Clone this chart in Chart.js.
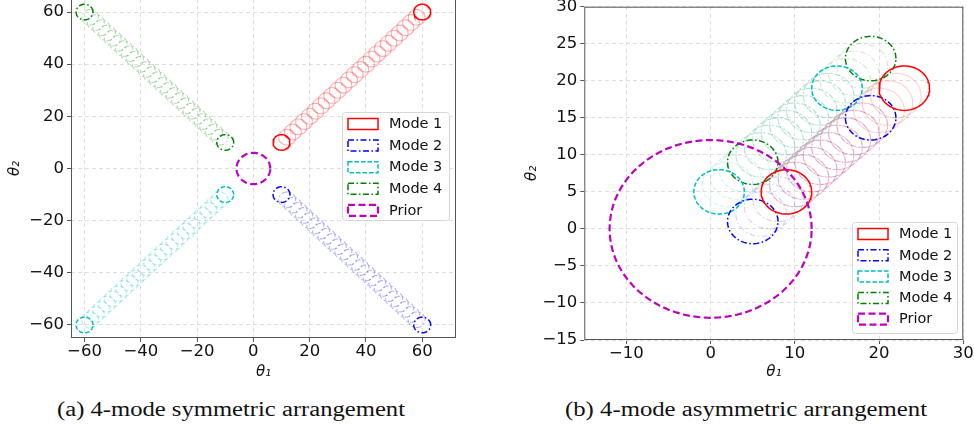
<!DOCTYPE html>
<html>
<head>
<meta charset="utf-8">
<script src="https://cdn.jsdelivr.net/npm/chart.js@4.4.1/dist/chart.umd.min.js"></script>
<style>
  body { margin: 0; background: #fff; width: 974px; height: 427px; overflow: hidden; position: relative; }
  .panel { position: absolute; }
  .caption { position: absolute; top: 398px; line-height: 22px; font-family: 'Liberation Serif', serif; font-size: 20px; color: #111; white-space: nowrap; transform-origin: 0 50%; }
</style>
</head>
<body>
<div class="panel" style="left:0;top:-1px;width:480px;height:386px"><canvas id="leftChart" width="480" height="386"></canvas></div>
<div class="panel" style="left:510px;top:0;width:464px;height:386px"><canvas id="rightChart" width="464" height="386"></canvas></div>
<div class="caption" id="capA" style="left:57px">(a) 4-mode symmetric arrangement</div>
<div class="caption" id="capB" style="left:565px">(b) 4-mode asymmetric arrangement</div>
<script>
// ---- data: circle centres along each mode path ----
// (a) symmetric
const leftMode1X = [10,12,14,16,18,20,22,24,26,28,30,32,34,36,38,40,42,44,46,48,50,52,54,56,58,60];
const leftMode1Y = [10,12,14,16,18,20,22,24,26,28,30,32,34,36,38,40,42,44,46,48,50,52,54,56,58,60];
const leftMode2X = [10,12,14,16,18,20,22,24,26,28,30,32,34,36,38,40,42,44,46,48,50,52,54,56,58,60];
const leftMode2Y = [-10,-12,-14,-16,-18,-20,-22,-24,-26,-28,-30,-32,-34,-36,-38,-40,-42,-44,-46,-48,-50,-52,-54,-56,-58,-60];
const leftMode3X = [-10,-12,-14,-16,-18,-20,-22,-24,-26,-28,-30,-32,-34,-36,-38,-40,-42,-44,-46,-48,-50,-52,-54,-56,-58,-60];
const leftMode3Y = [-10,-12,-14,-16,-18,-20,-22,-24,-26,-28,-30,-32,-34,-36,-38,-40,-42,-44,-46,-48,-50,-52,-54,-56,-58,-60];
const leftMode4X = [-10,-12,-14,-16,-18,-20,-22,-24,-26,-28,-30,-32,-34,-36,-38,-40,-42,-44,-46,-48,-50,-52,-54,-56,-58,-60];
const leftMode4Y = [10,12,14,16,18,20,22,24,26,28,30,32,34,36,38,40,42,44,46,48,50,52,54,56,58,60];
const leftModeRadius = 3;
const leftPrior = [0, 0];
const leftPriorRadius = 6;

// (b) asymmetric
const rightMode1X = [9,10,11,12,13,14,15,16,17,18,19,20,21,22,23];
const rightMode1Y = [5,6,7,8,9,10,11,12,13,14,15,16,17,18,19];
const rightMode2X = [5,6,7,8,9,10,11,12,13,14,15,16,17,18,19];
const rightMode2Y = [1,2,3,4,5,6,7,8,9,10,11,12,13,14,15];
const rightMode3X = [1,2,3,4,5,6,7,8,9,10,11,12,13,14,15];
const rightMode3Y = [5,6,7,8,9,10,11,12,13,14,15,16,17,18,19];
const rightMode4X = [5,6,7,8,9,10,11,12,13,14,15,16,17,18,19];
const rightMode4Y = [9,10,11,12,13,14,15,16,17,18,19,20,21,22,23];
const rightModeRadius = 3;
const rightPrior = [0, 0];
const rightPriorRadius = 12;

// axes
const leftXTicks = [-60, -40, -20, 0, 20, 40, 60];
const leftYTicks = [-60, -40, -20, 0, 20, 40, 60];
const rightXTicks = [-10, 0, 10, 20, 30];
const rightYTicks = [-15, -10, -5, 0, 5, 10, 15, 20, 25, 30];
const legendLabels = ['Mode 1', 'Mode 2', 'Mode 3', 'Mode 4', 'Prior'];

// ---- styles ----
const modeColours = ['#ff0000', '#0000ff', '#00bfbf', '#008000'];
const priorColour = '#bf00bf';
const dashDot = [6, 2.5, 1.5, 2.5];
const dashed = [4.5, 2];
const modeDashes = [[], dashDot, dashed, dashDot];
const priorDash = [7, 3.5];
const FONT = '"DejaVu Sans", sans-serif';

function withAlpha(hex, a) {
  const n = parseInt(hex.slice(1), 16);
  return `rgba(${(n >> 16) & 255},${(n >> 8) & 255},${n & 255},${a})`;
}

// outline of a circle in data space, so the scales turn it into pixels
function outline(cx, cy, r) {
  const pts = [];
  for (let k = 0; k <= 72; k++) {
    const a = k / 72 * Math.PI * 2;
    pts.push({ x: cx + r * Math.cos(a), y: cy + r * Math.sin(a) });
  }
  return pts;
}

function modeSets(xs, ys, r, colour, dash, faint) {
  return xs.map((x, i) => {
    const end = i === 0 || i === xs.length - 1;
    return {
      data: outline(x, ys[i], r),
      showLine: true, pointRadius: 0, fill: false, tension: 0,
      borderColor: end ? colour : withAlpha(colour, faint),
      borderWidth: end ? 1.5 : 1.1,
      borderDash: dash,
      order: end ? 1 : 2
    };
  });
}

function priorSet(c, r) {
  return {
    data: outline(c[0], c[1], r),
    showLine: true, pointRadius: 0, fill: false, tension: 0,
    borderColor: priorColour, borderWidth: 2.2, borderDash: priorDash, order: 0
  };
}

const fmt = v => v < 0 ? '\u2212' + Math.abs(v) : String(v);

// matplotlib-like box round the axes
const framePlugin = {
  id: 'frame',
  afterDatasetsDraw(chart) {
    const { ctx, chartArea: a } = chart;
    ctx.save();
    ctx.strokeStyle = '#555';
    ctx.lineWidth = 1;
    ctx.strokeRect(a.left + 0.5, a.top + 0.5, a.right - a.left - 1, a.bottom - a.top - 1);
    ctx.restore();
  }
};

// legend with rectangle handles in the line style of each mode
const boxLegend = {
  id: 'boxLegend',
  afterDraw(chart, args, opts) {
    const { ctx } = chart;
    const b = opts.box;
    ctx.save();
    ctx.beginPath();
    if (ctx.roundRect) ctx.roundRect(b.x + 0.5, b.y + 0.5, b.w, b.h, 3);
    else ctx.rect(b.x + 0.5, b.y + 0.5, b.w, b.h);
    ctx.fillStyle = 'rgba(255,255,255,0.85)';
    ctx.fill();
    ctx.strokeStyle = '#d6d6d6';
    ctx.lineWidth = 1;
    ctx.stroke();
    const colours = modeColours.concat([priorColour]);
    const dashes = modeDashes.concat([priorDash]);
    legendLabels.forEach((lab, i) => {
      const y = b.y + 12 + i * opts.step;
      ctx.setLineDash(dashes[i]);
      ctx.strokeStyle = colours[i];
      ctx.lineWidth = i === 4 ? 2.2 : 1.5;
      ctx.strokeRect(b.x + 6, y - 5.5, 30, 11);
      ctx.setLineDash([]);
      ctx.fillStyle = '#111';
      ctx.font = '14.5px ' + FONT;
      ctx.textBaseline = 'middle';
      ctx.fillText(lab, b.x + 47, y + 0.5);
    });
    ctx.restore();
  }
};

function axis(min, max, ticks, opts) {
  const horiz = opts.horiz;
  return {
    type: 'linear', min, max,
    afterBuildTicks: s => { s.ticks = ticks.map(v => ({ value: v })); },
    afterFit: s => {
      if (horiz) { s.height = opts.size; s.paddingLeft = 0; s.paddingRight = 0; }
      else { s.width = opts.size; s.paddingTop = 0; s.paddingBottom = 0; }
    },
    grid: { color: '#dedede', lineWidth: 1, drawTicks: true, tickLength: 4, tickColor: '#555', tickWidth: 1, tickBorderDash: [] },
    border: { display: false, dash: [4, 3] },
    ticks: { font: { family: FONT, size: 16.5 }, color: '#111', padding: horiz ? 0 : 3, autoSkip: false, maxRotation: 0, callback: fmt },
    title: {
      display: true, text: horiz ? '\u03b8\u2081' : '\u03b8\u2082', color: '#111',
      font: { family: FONT, size: 15, style: 'italic' },
      padding: horiz ? { top: 0, bottom: opts.titlePad } : { top: opts.titlePad, bottom: 0 }
    }
  };
}

function makeChart(id, datasets, cfg) {
  return new Chart(document.getElementById(id), {
    type: 'scatter',
    data: { datasets },
    options: {
      responsive: false, animation: false, devicePixelRatio: 1, events: [],
      layout: { padding: cfg.padding },
      plugins: {
        legend: { display: false }, tooltip: { enabled: false },
        boxLegend: { box: cfg.legendBox, step: cfg.legendStep }
      },
      scales: { x: cfg.x, y: cfg.y }
    },
    plugins: [framePlugin, boxLegend]
  });
}

const leftSets = [priorSet(leftPrior, leftPriorRadius)]
  .concat(modeSets(leftMode1X, leftMode1Y, leftModeRadius, modeColours[0], modeDashes[0], 0.3))
  .concat(modeSets(leftMode2X, leftMode2Y, leftModeRadius, modeColours[1], modeDashes[1], 0.3))
  .concat(modeSets(leftMode3X, leftMode3Y, leftModeRadius, modeColours[2], modeDashes[2], 0.3))
  .concat(modeSets(leftMode4X, leftMode4Y, leftModeRadius, modeColours[3], modeDashes[3], 0.3));

const rightSets = [priorSet(rightPrior, rightPriorRadius)]
  .concat(modeSets(rightMode1X, rightMode1Y, rightModeRadius, modeColours[0], modeDashes[0], 0.18))
  .concat(modeSets(rightMode2X, rightMode2Y, rightModeRadius, modeColours[1], modeDashes[1], 0.18))
  .concat(modeSets(rightMode3X, rightMode3Y, rightModeRadius, modeColours[2], modeDashes[2], 0.18))
  .concat(modeSets(rightMode4X, rightMode4Y, rightModeRadius, modeColours[3], modeDashes[3], 0.18));

makeChart('leftChart', leftSets, {
  padding: { top: 0, right: 24, bottom: 0, left: 0 },
  x: axis(-64.8, 72, leftXTicks, { horiz: true, size: 47, titlePad: 4 }),
  y: axis(-65, 65, leftYTicks, { horiz: false, size: 71, titlePad: 6.2 }),
  legendBox: { x: 342, y: 113, w: 107, h: 108 },
  legendStep: 21.6
});

makeChart('rightChart', rightSets, {
  padding: { top: 6.7, right: 10.7, bottom: 0, left: 0 },
  x: axis(-15, 30, rightXTicks, { horiz: true, size: 46, titlePad: 5 }),
  y: axis(-15, 30, rightYTicks, { horiz: false, size: 74.3, titlePad: 12.9 }),
  legendBox: { x: 342, y: 222, w: 105, h: 111 },
  legendStep: 21.3
});

// stretch captions to the width they take in the figure (Computer Modern is wide)
function fitCaption(id, target) {
  const el = document.getElementById(id);
  const w = el.getBoundingClientRect().width;
  el.style.transform = 'scaleX(' + (target / w) + ')';
}
fitCaption('capA', 348);
fitCaption('capB', 362);
</script>
</body>
</html>
